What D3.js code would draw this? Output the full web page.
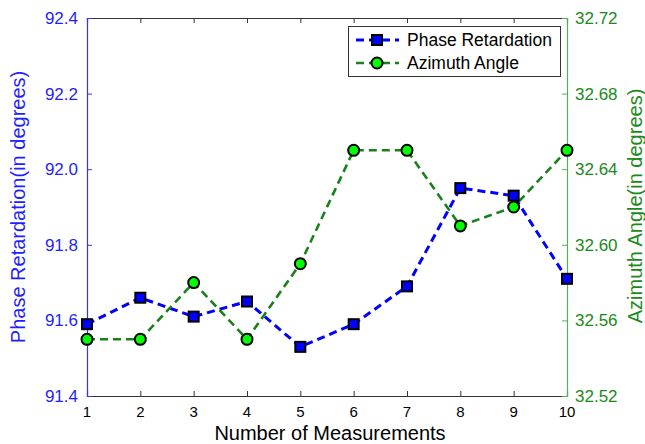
<!DOCTYPE html>
<html>
<head>
<meta charset="utf-8">
<script src="https://cdn.jsdelivr.net/npm/d3@7/dist/d3.min.js"></script>
<style>
  html, body { margin: 0; padding: 0; background: #fff; }
  svg { display: block; font-family: "Liberation Sans", Arial, Helvetica, sans-serif; }
</style>
</head>
<body>
<svg id="chart" width="645" height="444"></svg>
<script>
const measurements = [1, 2, 3, 4, 5, 6, 7, 8, 9, 10];
const phaseRetardation = [91.59, 91.66, 91.61, 91.65, 91.53, 91.59, 91.69, 91.95, 91.93, 91.71];
const azimuthAngle = [32.55, 32.55, 32.58, 32.55, 32.59, 32.65, 32.65, 32.61, 32.62, 32.65];
const leftTicks = [91.4, 91.6, 91.8, 92.0, 92.2, 92.4];
const rightTicks = [32.52, 32.56, 32.60, 32.64, 32.68, 32.72];
const seriesNames = ["Phase Retardation", "Azimuth Angle"];

const svg = d3.select("#chart");
const L = 87, R = 567, T = 18, B = 396;
const blue = "#0000ff", green = "#1a801a", lime = "#00ff00";
const leftAxisColor = "#3333ff", rightAxisColor = "#5aae5a";

const x = d3.scaleLinear().domain([1, 10]).range([L, R]);
const yL = d3.scaleLinear().domain([91.4, 92.4]).range([B, T]);
const yR = d3.scaleLinear().domain([32.52, 32.72]).range([B, T]);

// bottom axis (ticks inward)
const xb = svg.append("g").attr("transform", `translate(0,${B})`)
  .call(d3.axisTop(x).tickValues(measurements).tickSize(5).tickFormat(""));
xb.select(".domain").attr("stroke", "#333").attr("stroke-width", 1.2);
xb.selectAll(".tick line").attr("stroke", "#333");
// top axis (ticks inward)
const xt = svg.append("g").attr("transform", `translate(0,${T})`)
  .call(d3.axisBottom(x).tickValues(measurements).tickSize(5).tickFormat(""));
xt.select(".domain").attr("stroke", "#333").attr("stroke-width", 1.2);
xt.selectAll(".tick line").attr("stroke", "#333");
// x tick labels
svg.append("g").selectAll("text").data(measurements).join("text")
  .attr("x", d => x(d)).attr("y", 417).attr("text-anchor", "middle")
  .attr("font-size", 15).attr("fill", "#000").text(d => d);

// left axis
const gl = svg.append("g").attr("transform", `translate(${L},0)`)
  .call(d3.axisRight(yL).tickValues(leftTicks).tickSize(5).tickFormat(""));
gl.select(".domain").attr("stroke", leftAxisColor).attr("stroke-width", 1.2);
gl.selectAll(".tick line").attr("stroke", leftAxisColor);
svg.append("g").selectAll("text").data(leftTicks).join("text")
  .attr("x", 78).attr("y", d => yL(d) + 6).attr("text-anchor", "end")
  .attr("font-size", 17).attr("fill", "#1f1fff").text(d => d.toFixed(1));

// right axis
const gr = svg.append("g").attr("transform", `translate(${R},0)`)
  .call(d3.axisLeft(yR).tickValues(rightTicks).tickSize(5).tickFormat(""));
gr.select(".domain").attr("stroke", rightAxisColor).attr("stroke-width", 1.2);
gr.selectAll(".tick line").attr("stroke", rightAxisColor);
svg.append("g").selectAll("text").data(rightTicks).join("text")
  .attr("x", 575).attr("y", d => yR(d) + 6).attr("text-anchor", "start")
  .attr("font-size", 17).attr("fill", "#1a8a1a").text(d => d.toFixed(2));

// axis titles
svg.append("text").attr("transform", "translate(25,207) rotate(-90)")
  .attr("text-anchor", "middle").attr("font-size", 20).attr("fill", "#1f1fff")
  .text("Phase Retardation(in degrees)");
svg.append("text").attr("transform", "translate(642,206) rotate(-90)")
  .attr("text-anchor", "middle").attr("font-size", 20).attr("fill", "#1a8a1a")
  .text("Azimuth Angle(in degrees)");
svg.append("text").attr("x", 330).attr("y", 439.5).attr("text-anchor", "middle")
  .attr("font-size", 20).attr("fill", "#000").text("Number of Measurements");

// series
const lineL = d3.line().x((d, i) => x(measurements[i])).y(d => yL(d));
const lineR = d3.line().x((d, i) => x(measurements[i])).y(d => yR(d));

svg.append("path").datum(phaseRetardation).attr("d", lineL)
  .attr("fill", "none").attr("stroke", blue).attr("stroke-width", 3)
  .attr("stroke-dasharray", "8,5");
svg.append("path").datum(azimuthAngle).attr("d", lineR)
  .attr("fill", "none").attr("stroke", green).attr("stroke-width", 2.6)
  .attr("stroke-dasharray", "8,5");

svg.append("g").selectAll("rect").data(phaseRetardation).join("rect")
  .attr("x", (d, i) => x(measurements[i]) - 5).attr("y", d => yL(d) - 5)
  .attr("width", 10).attr("height", 10)
  .attr("fill", blue).attr("stroke", "#000").attr("stroke-width", 2);
svg.append("g").selectAll("circle").data(azimuthAngle).join("circle")
  .attr("cx", (d, i) => x(measurements[i])).attr("cy", d => yR(d)).attr("r", 5.5)
  .attr("fill", lime).attr("stroke", "#000").attr("stroke-width", 2);

// legend
const lg = svg.append("g");
lg.append("rect").attr("x", 348.5).attr("y", 26.5).attr("width", 212).attr("height", 50)
  .attr("fill", "#fff").attr("stroke", "#333").attr("stroke-width", 1);
const rows = [
  { name: seriesNames[0], color: blue, w: 3, marker: "square", y: 40 },
  { name: seriesNames[1], color: green, w: 2.6, marker: "circle", y: 63 }
];
rows.forEach(r => {
  lg.append("line").attr("x1", 356).attr("x2", 399).attr("y1", r.y).attr("y2", r.y)
    .attr("stroke", r.color).attr("stroke-width", r.w).attr("stroke-dasharray", "8,5");
  if (r.marker === "square") {
    lg.append("rect").attr("x", 372).attr("y", r.y - 5).attr("width", 10).attr("height", 10)
      .attr("fill", blue).attr("stroke", "#000").attr("stroke-width", 2);
  } else {
    lg.append("circle").attr("cx", 377).attr("cy", r.y).attr("r", 5.5)
      .attr("fill", lime).attr("stroke", "#000").attr("stroke-width", 2);
  }
  lg.append("text").attr("x", 407).attr("y", r.y + 6).attr("font-size", 17.5)
    .attr("fill", "#000").text(r.name);
});
</script>
</body>
</html>
